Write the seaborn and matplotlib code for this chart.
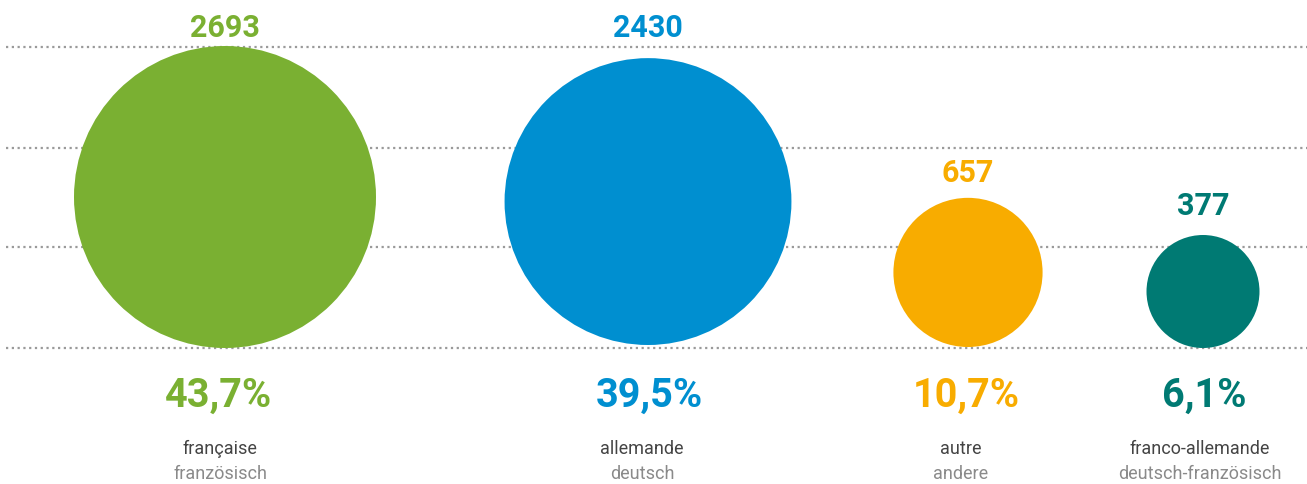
import numpy as np
import pandas as pd
import matplotlib
matplotlib.use("Agg")
import matplotlib.pyplot as plt
import seaborn as sns

# chart values
categories = ["française", "allemande", "autre", "franco-allemande"]
labels_de = ["französisch", "deutsch", "andere", "deutsch-französisch"]
counts = [2693, 2430, 657, 377]
shares = ["43,7%", "39,5%", "10,7%", "6,1%"]
colors = ["#7AB032", "#008FD0", "#F8AC00", "#007A73"]

# layout (pixels)
W, H = 1307, 484
DPI = 100
x_pos = [225, 648, 968, 1203]
share_x = [219, 649, 966, 1204]
label_x = [220, 642, 961, 1200]
bottoms = [348, 345, 347, 348]
k = 151 / np.sqrt(2693)          # radius per sqrt(count), area-proportional
num_y = [37, 37, 182, 215]       # baseline of the count labels
grid_y = [47, 148, 247, 348]

radius = [k * np.sqrt(c) for c in counts]
df = pd.DataFrame({
    "category": categories,
    "x": x_pos,
    "y": [b - r for b, r in zip(bottoms, radius)],
})
# marker area in pt^2 from radius in px
px2pt = 72 / DPI
sizes = {c: (2 * r * px2pt) ** 2 for c, r in zip(categories, radius)}

sns.set_style("white")
plt.rcParams["font.family"] = ["Roboto", "DejaVu Sans"]

fig = plt.figure(figsize=(W / DPI, H / DPI), dpi=DPI)
ax = fig.add_axes([0, 0, 1, 1])

for gy in grid_y:
    ax.axhline(gy, xmin=6 / W, xmax=1, color="#9a9a9a", lw=1.6,
               linestyle=(0, (1, 1.6)), zorder=1)

sns.scatterplot(data=df, x="x", y="y", hue="category", size="category",
                palette=dict(zip(categories, colors)), sizes=sizes,
                linewidth=0, alpha=1, legend=False, ax=ax, zorder=3)

for i, cat in enumerate(categories):
    ax.text(x_pos[i], num_y[i], f"{counts[i]}", color=colors[i], fontsize=22,
            fontweight="bold", ha="center", va="baseline")
    ax.text(share_x[i], 407, shares[i], color=colors[i], fontsize=28.5,
            fontweight="bold", ha="center", va="baseline")
    ax.text(label_x[i], 454, cat, color="#444444", fontsize=13,
            ha="center", va="baseline")
    ax.text(label_x[i], 479, labels_de[i], color="#8a8a8a", fontsize=13,
            ha="center", va="baseline")

ax.set_xlim(0, W)
ax.set_ylim(H, 0)
ax.axis("off")

fig.savefig("out.png", dpi=DPI)
